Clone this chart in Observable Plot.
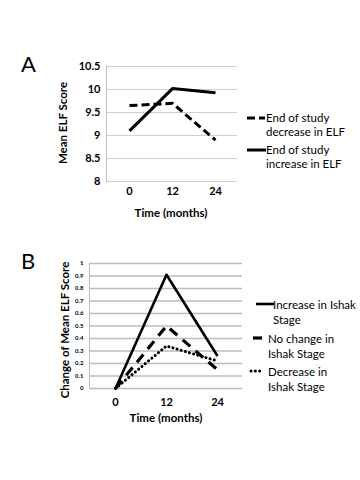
<!DOCTYPE html>
<html><head><meta charset="utf-8">
<script src="https://cdn.jsdelivr.net/npm/d3@7"></script>
<script src="https://cdn.jsdelivr.net/npm/@observablehq/plot@0.6"></script>
<style>
body{margin:0;background:#fff;font-family:Lato,"Open Sans",sans-serif;color:#000;}
#root{position:relative;width:360px;height:480px;overflow:hidden;background:#fff;}
.abs{position:absolute;white-space:nowrap;}
.panel{position:absolute;left:0;}
.big{font-size:22px;line-height:26px;}
.ttl{font-size:11.5px;font-weight:bold;line-height:14px;}
.leg{font-size:11.5px;line-height:14px;}
.rot{transform:translate(-50%,-50%) rotate(-90deg);}
</style></head>
<body><div id="root"></div>
<script>
// ---------- data ----------
const months = [0, 12, 24];
// Panel A: Mean ELF score
const aDecreaseELF = [9.65, 9.7, 8.9];
const aIncreaseELF = [9.1, 10.02, 9.93];
const aTicks = [8, 8.5, 9, 9.5, 10, 10.5];
// Panel B: change of mean ELF score by Ishak stage
const bIncreaseIshak = [0, 0.91, 0.26];
const bNoChangeIshak = [0, 0.5, 0.15];
const bDecreaseIshak = [0, 0.34, 0.22];
const bTicks = [0, 0.1, 0.2, 0.3, 0.4, 0.5, 0.6, 0.7, 0.8, 0.9, 1];

const seriesA = [
  {name: "End of study decrease in ELF", values: aDecreaseELF, dash: "8,4", width: 3, cap: "butt"},
  {name: "End of study increase in ELF", values: aIncreaseELF, dash: null, width: 3, cap: "butt"}
];
const seriesB = [
  {name: "Increase in Ishak Stage", values: bIncreaseIshak, dash: null, width: 2.6, cap: "butt"},
  {name: "No change in Ishak Stage", values: bNoChangeIshak, dash: "10,7", width: 3.2, cap: "butt"},
  {name: "Decrease in Ishak Stage", values: bDecreaseIshak, dash: "0.1,4.2", width: 3, cap: "round"}
];
const toRows = s => months.map((m, i) => ({month: m, value: s.values[i]}));

const root = document.getElementById("root");
function add(html, style, cls) {
  const d = document.createElement("div");
  d.className = "abs " + (cls || "");
  d.innerHTML = html;
  Object.assign(d.style, style);
  root.appendChild(d);
  return d;
}
function sample(s, w, left, y) {
  const svg = `<svg width="${w + 4}" height="8" style="display:block"><line x1="2" x2="${w + 2}" y1="4" y2="4" stroke="#000" stroke-width="${s.width}" stroke-linecap="${s.cap}" ${s.dash ? `stroke-dasharray="${s.dash}"` : ""}/></svg>`;
  add(svg, {left: (left - 2) + "px", top: (y - 4) + "px"});
}

// ---------- Panel A ----------
const plotA = Plot.plot({
  width: 360, height: 171,
  marginLeft: 106, marginRight: 123, marginTop: 16, marginBottom: 40,
  style: {color: "#000", background: "transparent", fontFamily: "Lato, sans-serif"},
  x: {type: "point", domain: months, padding: 0.5},
  y: {domain: [8, 10.5]},
  marks: [
    Plot.gridY(aTicks, {stroke: "#cfcfcf", strokeOpacity: 1, strokeWidth: 1.2}),
    Plot.frame({anchor: "left", stroke: "#bdbdbd"}),
    Plot.axisY(aTicks, {tickSize: 0, tickPadding: 6, fontSize: 11, fontWeight: "bold", label: null, tickFormat: d => String(d)}),
    Plot.axisX({tickSize: 0, tickPadding: 6, fontSize: 11, fontWeight: "bold", label: null}),
    ...seriesA.map(s => Plot.line(toRows(s), {x: "month", y: "value", stroke: "#000", strokeWidth: s.width, strokeDasharray: s.dash, strokeLinecap: s.cap}))
  ]
});
plotA.classList.add("panel");
plotA.style.top = "50px";
root.appendChild(plotA);

add("A", {left: "21px", top: "51px"}, "big");
add("Mean ELF Score", {left: "63px", top: "123px"}, "ttl rot");
add("Time (months)", {left: "171px", top: "213px", transform: "translate(-50%,-50%)"}, "ttl");
// legend A
sample(seriesA[0], 18, 247, 118);
add("End of study<br>decrease in ELF", {left: "266px", top: "111px"}, "leg");
sample(seriesA[1], 19, 247, 150);
add("End of study<br>increase in ELF", {left: "266px", top: "143px"}, "leg");

// ---------- Panel B ----------
const plotB = Plot.plot({
  width: 360, height: 178,
  marginLeft: 89, marginRight: 118, marginTop: 13, marginBottom: 40,
  style: {color: "#000", background: "transparent", fontFamily: "Lato, sans-serif"},
  x: {type: "point", domain: months, padding: 0.5},
  y: {domain: [0, 1]},
  marks: [
    Plot.gridY(bTicks, {stroke: "#bdbdbd", strokeOpacity: 1, strokeWidth: 1.4}),
    Plot.frame({anchor: "left", stroke: "#bdbdbd"}),
    Plot.axisY(bTicks, {tickSize: 0, tickPadding: 6, fontSize: 6, fontWeight: "bold", label: null, tickFormat: d => String(d)}),
    Plot.axisX({tickSize: 0, tickPadding: 10, fontSize: 11, fontWeight: "bold", label: null}),
    ...seriesB.map(s => Plot.line(toRows(s), {x: "month", y: "value", stroke: "#000", strokeWidth: s.width, strokeDasharray: s.dash, strokeLinecap: s.cap}))
  ]
});
plotB.classList.add("panel");
plotB.style.top = "250px";
root.appendChild(plotB);

add("B", {left: "21px", top: "248px"}, "big");
add("Change of Mean ELF Score", {left: "65px", top: "330px"}, "ttl rot");
add("Time (months)", {left: "166px", top: "418px", transform: "translate(-50%,-50%)"}, "ttl");
// legend B
sample(seriesB[0], 18, 256, 304);
add("Increase in Ishak<br>Stage", {left: "273px", top: "297px", lineHeight: "15px"}, "leg");
sample(seriesB[1], 9, 253, 338);
add("No change in<br>Ishak Stage", {left: "268px", top: "331px", lineHeight: "15px"}, "leg");
sample(seriesB[2], 12, 251, 371);
add("Decrease in<br>Ishak Stage", {left: "268px", top: "364px", lineHeight: "15px"}, "leg");
</script></body></html>
